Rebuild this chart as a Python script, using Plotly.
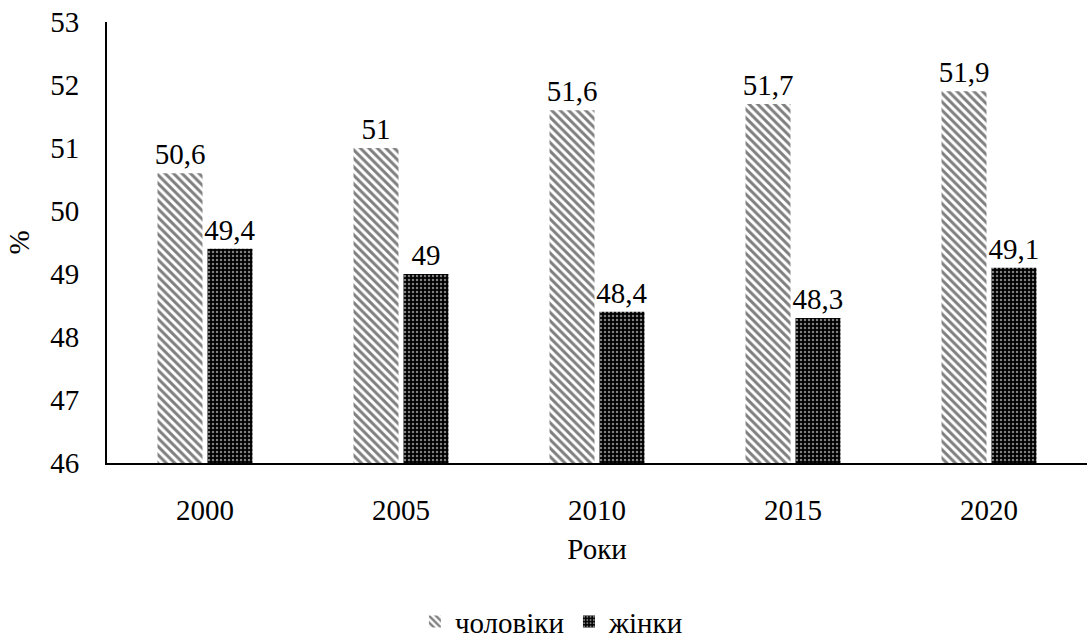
import plotly.graph_objects as go

years = ["2000", "2005", "2010", "2015", "2020"]
men = [50.6, 51.0, 51.6, 51.7, 51.9]
women = [49.4, 49.0, 48.4, 48.3, 49.1]
men_labels = ["50,6", "51", "51,6", "51,7", "51,9"]
women_labels = ["49,4", "49", "48,4", "48,3", "49,1"]

FONT = "Liberation Serif, Times New Roman, serif"
FS = 29

fig = go.Figure()
fig.add_trace(go.Bar(
    x=years, y=[v - 46 for v in men], base=46, name="чоловіки",
    text=men_labels, textposition="outside", cliponaxis=False, constraintext="none",
    textfont=dict(size=FS, color="black", family=FONT),
    marker=dict(color="white", line=dict(width=0),
                pattern=dict(shape="\\", fgcolor="black", bgcolor="white", size=6, solidity=0.5)),
))
fig.add_trace(go.Bar(
    x=years, y=[v - 46 for v in women], base=46, name="жінки",
    text=women_labels, textposition="outside", cliponaxis=False, constraintext="none",
    textfont=dict(size=FS, color="black", family=FONT),
    marker=dict(color="black", line=dict(width=0),
                pattern=dict(shape=".", fgcolor="white", bgcolor="black", size=4, solidity=0.3)),
))

fig.update_layout(
    width=1089, height=639,
    margin=dict(l=107, r=2, t=22, b=176, autoexpand=False),
    paper_bgcolor="white", plot_bgcolor="white",
    font=dict(family=FONT, size=FS, color="black"),
    barmode="group", bargap=0.49, bargroupgap=0.1,
    showlegend=True,
    legend=dict(orientation="h", x=0.454, xanchor="center", y=-0.36, yanchor="middle",
                font=dict(size=FS, family=FONT), itemwidth=30, traceorder="normal"),
)
fig.update_xaxes(showline=True, linecolor="black", linewidth=2, showgrid=False, automargin=False,
                 ticks="", tickfont=dict(size=FS, family=FONT), ticklabelstandoff=20,
                 ticklabeloverflow="allow",
                 title=dict(text="Роки", font=dict(size=FS, family=FONT), standoff=14))
fig.update_yaxes(range=[46, 53], dtick=1, showline=True, linecolor="black", linewidth=2,
                 showgrid=False, zeroline=False, ticks="", tickfont=dict(size=FS, family=FONT),
                 ticklabelstandoff=20, automargin=False, ticklabeloverflow="allow",
                 title=dict(text="%", font=dict(size=FS, family=FONT), standoff=12))

fig.write_html("out.html", config={"displayModeBar": False},
               post_script="document.body.style.margin='0';")
